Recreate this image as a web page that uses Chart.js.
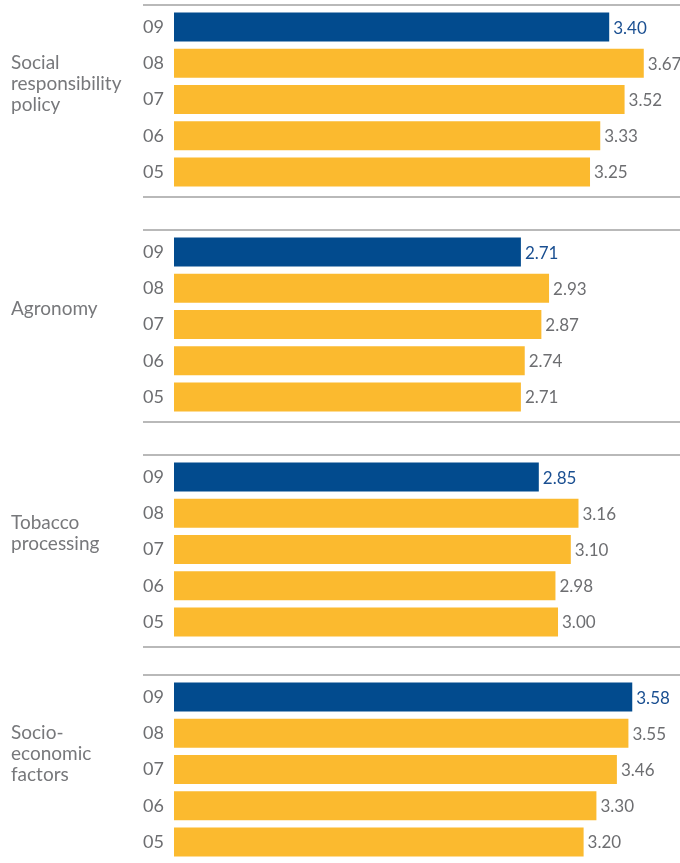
<!DOCTYPE html>
<html>
<head>
<meta charset="utf-8">
<script src="https://cdn.jsdelivr.net/npm/chart.js@4"></script>
<style>
  html, body { margin: 0; padding: 0; background: #fff; overflow: hidden; }
  body { width: 680px; height: 863px; position: relative; font-family: Lato, "Open Sans", sans-serif; }
  .grupo { position: absolute; left: 0; width: 680px; height: 194px; }
  .titulo { position: absolute; left: 11px; font-size: 19px; line-height: 21px; color: #77787b; }
</style>
</head>
<body>
<script>
  const grupos = ['Social\nresponsibility\npolicy', 'Agronomy', 'Tobacco\nprocessing', 'Socio-\neconomic\nfactors'];
  const anios = ['09', '08', '07', '06', '05'];
  const valoresSocial = [3.40, 3.67, 3.52, 3.33, 3.25];
  const valoresAgronomia = [2.71, 2.93, 2.87, 2.74, 2.71];
  const valoresTabaco = [2.85, 3.16, 3.10, 2.98, 3.00];
  const valoresSocioeco = [3.58, 3.55, 3.46, 3.30, 3.20];
  const valores = [valoresSocial, valoresAgronomia, valoresTabaco, valoresSocioeco];

  const azul = '#024b8e';
  const amarillo = '#fbba2f';
  const gris = '#6d6e71';
  const posiciones = [4, 229, 454, 674];

  // lineas grises arriba y abajo de cada grupo + etiquetas de valor
  const extras = {
    id: 'extras',
    afterDatasetsDraw(chart) {
      const ctx = chart.ctx;
      ctx.save();
      ctx.strokeStyle = '#a3a3a3';
      ctx.lineWidth = 1.5;
      ctx.beginPath();
      ctx.moveTo(143, 1); ctx.lineTo(chart.width, 1);
      ctx.moveTo(143, chart.height - 1); ctx.lineTo(chart.width, chart.height - 1);
      ctx.stroke();

      ctx.font = '17px Lato, "Open Sans", sans-serif';
      ctx.textBaseline = 'middle';
      chart.getDatasetMeta(0).data.forEach((bar, i) => {
        ctx.fillStyle = i === 0 ? '#1a4f91' : gris;
        ctx.fillText(chart.data.datasets[0].data[i].toFixed(2), bar.x + 4, bar.y + 1);
      });
      ctx.restore();
    }
  };

  grupos.forEach((nombre, g) => {
    const div = document.createElement('div');
    div.className = 'grupo';
    div.style.top = posiciones[g] + 'px';
    const canvas = document.createElement('canvas');
    div.appendChild(canvas);
    document.body.appendChild(div);

    const lineas = nombre.split('\n');
    const titulo = document.createElement('div');
    titulo.className = 'titulo';
    titulo.innerHTML = lineas.join('<br>');
    titulo.style.top = (posiciones[g] + 78 - lineas.length * 10.5) + 'px';
    document.body.appendChild(titulo);

    new Chart(canvas, {
      type: 'bar',
      data: {
        labels: anios,
        datasets: [{
          data: valores[g],
          backgroundColor: anios.map((a, i) => i === 0 ? azul : amarillo),
          categoryPercentage: 1,
          barPercentage: 0.8
        }]
      },
      options: {
        indexAxis: 'y',
        responsive: true,
        maintainAspectRatio: false,
        animation: false,
        layout: { padding: { top: 5, bottom: 8, left: 0, right: 0 } },
        plugins: { legend: { display: false }, tooltip: { enabled: false } },
        scales: {
          x: { display: false, min: 0, max: 3.953 },
          y: {
            grid: { display: false, drawTicks: false },
            border: { display: false },
            afterFit(scale) {
              scale.width = 174;
              scale.paddingTop = 0;
              scale.paddingBottom = 0;
            },
            ticks: { color: gris, padding: 10, font: { size: 18, family: 'Lato, "Open Sans", sans-serif' } }
          }
        }
      },
      plugins: [extras]
    });
  });
</script>
</body>
</html>
